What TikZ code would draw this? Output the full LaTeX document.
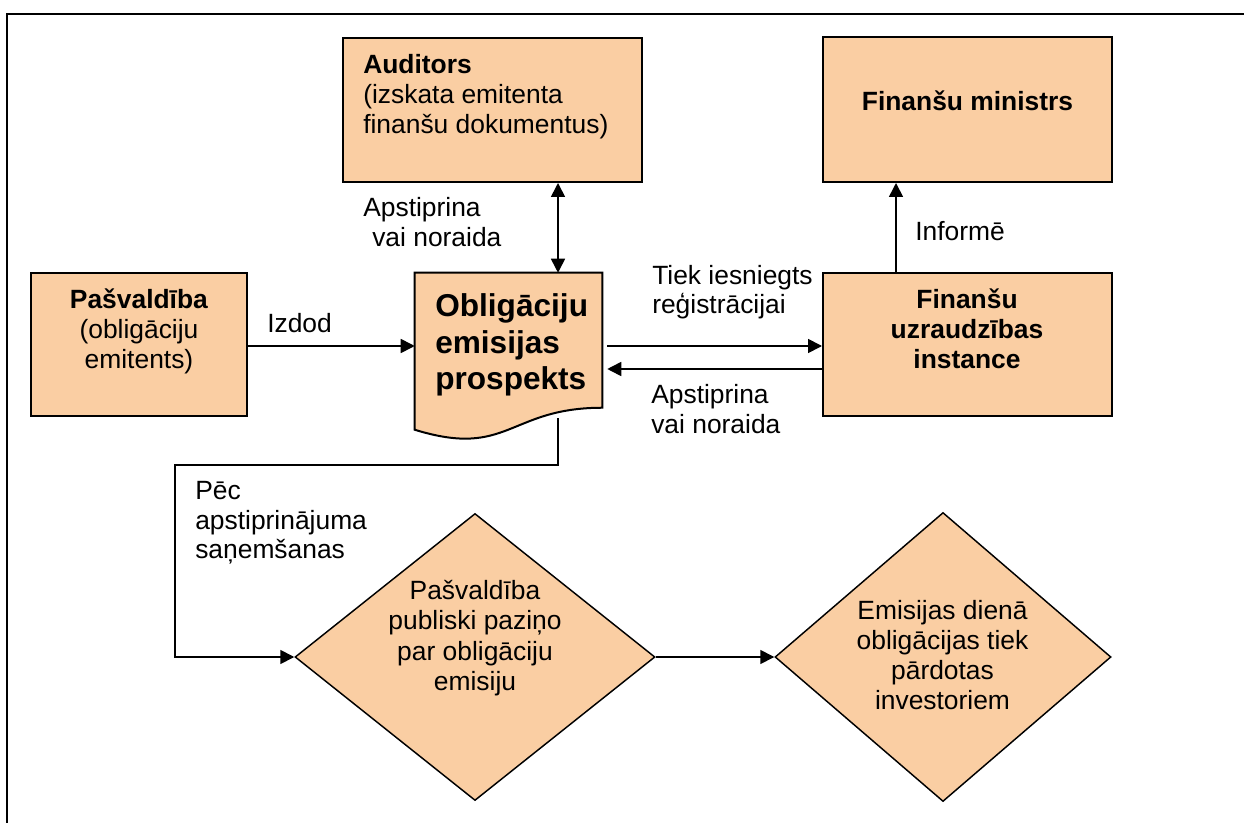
\documentclass[tikz,border=0pt]{standalone}
\usepackage{fontspec}
\setmainfont{Liberation Sans}
\usetikzlibrary{shapes.geometric,arrows.meta,calc}
\definecolor{boxfill}{RGB}{250,206,163}

\begin{document}
\begin{tikzpicture}[x=0.75pt,y=-0.75pt,
  box/.style={rectangle, draw=black, line width=1.5pt, fill=boxfill, inner sep=0pt},
  dia/.style={diamond, draw=black, line width=1.1pt, fill=boxfill, inner sep=0pt},
  txt/.style={inner sep=0pt, font=\fontsize{19.8}{22.5}\selectfont},
  btxt/.style={inner sep=0pt, font=\fontsize{19.8}{22.5}\selectfont\bfseries},
  lbl/.style={inner sep=0pt, anchor=west, align=left, font=\fontsize{19.8}{22}\selectfont},
  tip/.tip={Triangle[length=10.5pt,width=10.5pt]},
  conn/.style={line width=1.25pt, -tip},
  both/.style={line width=1.25pt, tip-tip},
]
\useasboundingbox (0,0) rectangle (1244,823);

% page frame (top and left edges)
\draw[line width=2.2pt] (7,823) -- (7,14) -- (1244,14);

% boxes
\node[box, minimum width=299*0.75pt, minimum height=144*0.75pt] (aud) at (492.5,110) {};
\node[box, minimum width=289*0.75pt, minimum height=145*0.75pt] (min) at (967.5,109.5) {};
\node[box, minimum width=216*0.75pt, minimum height=143*0.75pt] (pas) at (139,344.5) {};
\node[box, minimum width=289*0.75pt, minimum height=143*0.75pt] (fui) at (967.5,344.5) {};

% document shape (flowchart "document")
\node[rectangle, inner sep=0pt, minimum width=187*0.75pt, minimum height=168*0.75pt] (doc) at (508.5,357) {};
\filldraw[fill=boxfill, draw=black, line width=1.5pt]
  (doc.north west) -- (doc.north east) -- ($(doc.north east)+(0,135)$)
  .. controls ($(doc.north)+(0,135)$) and ($(doc.north)+(0,186)$) .. ($(doc.north west)+(0,157)$)
  -- cycle;

% decision diamonds
\node[dia, minimum width=360*0.75pt, minimum height=287*0.75pt] (d1) at (475,657) {};
\node[dia, minimum width=336*0.75pt, minimum height=289*0.75pt] (d2) at (943,657) {};

% texts inside shapes
\node[txt, anchor=west, align=left] (taud) at (363,96.5) {\textbf{Auditors}\\(izskata emitenta\\finanšu dokumentus)};
\node[btxt, align=center] (tmin) at (967.5,101) {Finanšu ministrs};
\node[txt, align=center] (tpas) at (139,331.5) {\textbf{Pašvaldība}\\(obligāciju\\emitents)};
\node[btxt, align=center] (tfui) at (967,328.5) {Finanšu\\uzraudzības\\instance};
\node[inner sep=0pt, anchor=west, align=left, font=\fontsize{23.7}{27.4}\selectfont\bfseries] (tdoc) at (435,345.2) {Obligāciju\\emisijas\\prospekts};
\node[inner sep=0pt, align=center, font=\fontsize{19.8}{22.7}\selectfont] (td1) at (475,638) {Pašvaldība\\publiski paziņo\\par obligāciju\\emisiju};
\node[inner sep=0pt, align=center, font=\fontsize{19.8}{22.7}\selectfont] (td2) at (942.5,655) {Emisijas dienā\\obligācijas tiek\\pārdotas\\investoriem};

% connector labels
\node[lbl] (laud) at (363,222) {Apstiprina\\\hspace{6.75pt}vai noraida};
\node[lbl] (lizd) at (267,323) {Izdod};
\node[lbl] (ltiek) at (652,292) {Tiek iesniegts\\reģistrācijai};
\node[lbl] (lret) at (651,409) {Apstiprina\\vai noraida};
\node[lbl] (linf) at (915,231) {Informē};
\node[lbl] (lpec) at (195,523) {Pēc\\apstiprinājuma\\saņemšanas};

% connectors
\coordinate (docR) at ([xshift=3.75pt]doc.east);
\coordinate (docout) at (558,418);
\coordinate (turn) at (175,465);

\draw[both] (aud.south -| 558,0) -- (doc.north -| 558,0);
\draw[conn] (pas.east |- 0,346) -- (doc.west |- 0,346);
\draw[conn] (docR |- 0,346) -- (fui.west |- 0,346);
\draw[conn] (fui.west |- 0,369) -- (docR |- 0,369);
\draw[conn] (fui.north -| 896,0) -- (min.south -| 896,0);
\draw[conn] (docout) |- (turn) |- (d1.west);
\draw[conn] (d1.east) -- (d2.west);
\end{tikzpicture}
\end{document}
